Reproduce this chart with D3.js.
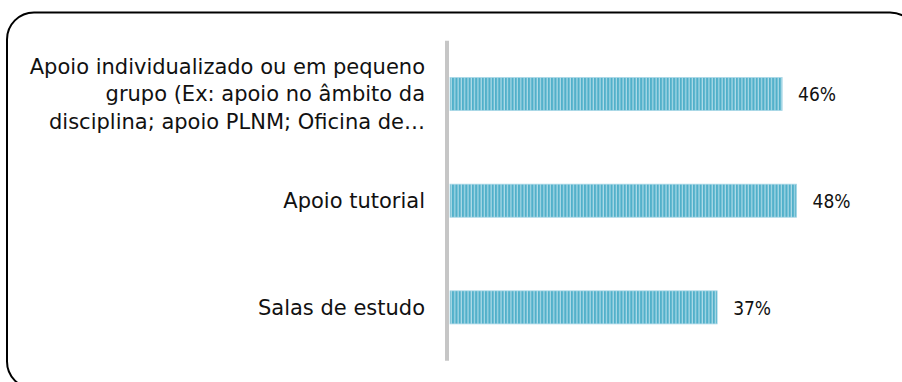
<!DOCTYPE html>
<html>
<head>
<meta charset="utf-8">
<script src="https://cdn.jsdelivr.net/npm/d3@7"></script>
<style>
  html, body { margin: 0; padding: 0; background: #fff; }
  svg { display: block; }
</style>
</head>
<body>
<div id="chart"></div>
<script>
// Categories (line breaks mark where the label wraps)
const categories = [
  "Apoio individualizado ou em pequeno\ngrupo (Ex: apoio no âmbito da\ndisciplina; apoio PLNM; Oficina de…",
  "Apoio tutorial",
  "Salas de estudo"
];
const values = [46, 48, 37];
const valueLabels = ["46%", "48%", "37%"];

const W = 902, H = 382;
const svg = d3.select("#chart").append("svg").attr("width", W).attr("height", H);

// Striped fill for the bars
const defs = svg.append("defs");
const pat = defs.append("pattern")
  .attr("id", "stripes")
  .attr("patternUnits", "userSpaceOnUse")
  .attr("width", 3.3).attr("height", 10);
pat.append("rect").attr("width", 3.3).attr("height", 10).attr("fill", "#aedbe8");
pat.append("rect").attr("width", 2.1).attr("height", 10).attr("fill", "#51b0ca");

// Rounded frame around the chart area
svg.append("rect")
  .attr("x", 7).attr("y", 12.5)
  .attr("width", 910).attr("height", 376)
  .attr("rx", 27).attr("ry", 27)
  .attr("fill", "none").attr("stroke", "#000").attr("stroke-width", 2);

const x = d3.scaleLinear().domain([0, 50]).range([450, 811]);
const y = d3.scaleBand().domain(categories).range([40.7, 360.7])
  .paddingInner(0.69).paddingOuter(0.345);

// Bars
svg.append("g").selectAll("rect")
  .data(categories)
  .join("rect")
  .attr("x", x(0))
  .attr("y", d => y(d))
  .attr("width", (d, i) => x(values[i]) - x(0))
  .attr("height", y.bandwidth())
  .attr("fill", "url(#stripes)")
  .attr("stroke", "#a9d7e6").attr("stroke-width", 0.8);

// Category axis line
svg.append("line")
  .attr("x1", 447).attr("x2", 447)
  .attr("y1", y.range()[0]).attr("y2", y.range()[1])
  .attr("stroke", "#c6c6c6").attr("stroke-width", 4);

const fontFamily = "'DejaVu Sans', Verdana, sans-serif";
const lineH = 27.5;

// Category labels, right-aligned and wrapped
const labels = svg.append("g")
  .attr("font-family", fontFamily)
  .attr("font-size", 21)
  .attr("fill", "#111")
  .attr("text-anchor", "end");
categories.forEach(c => {
  const lines = c.split("\n");
  const cy = y(c) + y.bandwidth() / 2;
  const t = labels.append("text");
  lines.forEach((ln, k) => {
    t.append("tspan")
      .attr("x", 425)
      .attr("y", cy + (k - (lines.length - 1) / 2) * lineH)
      .attr("dy", "0.35em")
      .text(ln);
  });
});

// Value labels
svg.append("g")
  .attr("font-family", "'DejaVu Sans Condensed', 'DejaVu Sans', sans-serif")
  .attr("font-size", 19)
  .attr("fill", "#111")
  .selectAll("text")
  .data(categories)
  .join("text")
  .attr("x", (d, i) => x(values[i]) + 16)
  .attr("y", d => y(d) + y.bandwidth() / 2)
  .attr("dy", "0.38em")
  .text((d, i) => valueLabels[i]);
</script>
</body>
</html>
